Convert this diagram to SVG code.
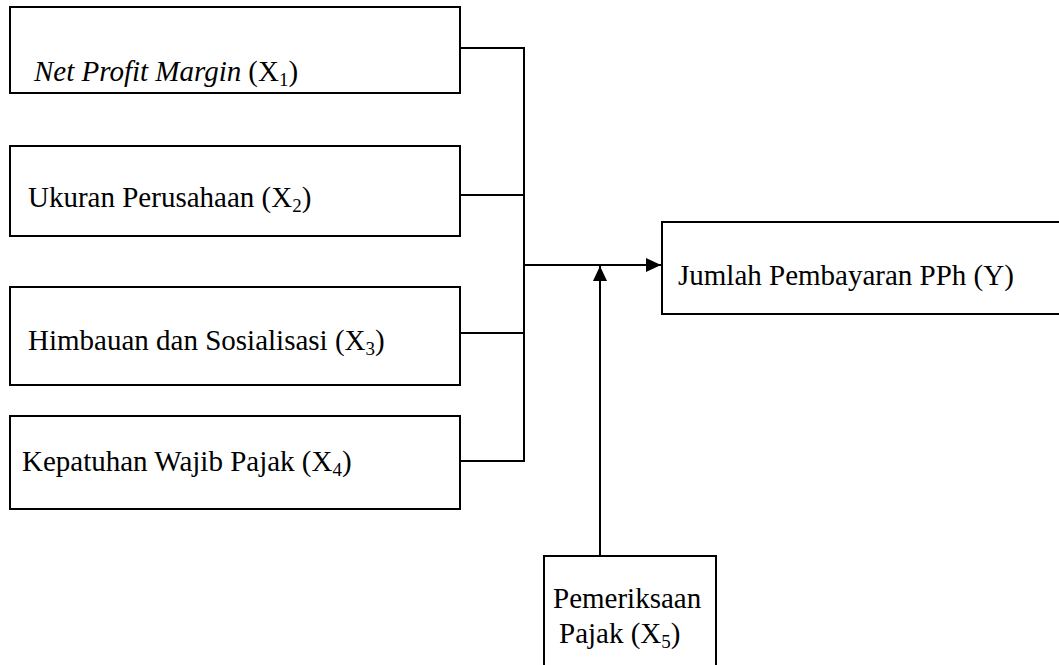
<svg xmlns="http://www.w3.org/2000/svg" width="1059" height="665" viewBox="0 0 1059 665">
<style>
.box{fill:#fff;stroke:#000;stroke-width:2}
.t{font-family:"Liberation Serif","Times New Roman",serif;font-size:29px;fill:#000}
.s{font-size:19px}
.c{fill:none;stroke:#000;stroke-width:2}
</style>
<defs>
<marker id="ah" viewBox="0 0 10 10" refX="10" refY="5" markerWidth="15" markerHeight="14" markerUnits="userSpaceOnUse" orient="auto" preserveAspectRatio="none">
<path d="M0,0 L10,5 L0,10 Z" fill="#000"/>
</marker>
</defs>
<rect width="1059" height="665" fill="#fff"/>
<g id="x1">
<rect class="box" x="10" y="7" width="450" height="86"/>
<text class="t" x="34" y="81"><tspan font-style="italic">Net Profit Margin</tspan><tspan dx="7">(X</tspan><tspan class="s" dy="5">1</tspan><tspan dy="-5">)</tspan></text>
</g>
<g id="x2">
<rect class="box" x="10" y="146" width="450" height="90"/>
<text class="t" x="28" y="207">Ukuran Perusahaan (X<tspan class="s" dy="5">2</tspan><tspan dy="-5">)</tspan></text>
</g>
<g id="x3">
<rect class="box" x="10" y="287" width="450" height="98"/>
<text class="t" x="28" y="350">Himbauan dan Sosialisasi (X<tspan class="s" dy="5">3</tspan><tspan dy="-5">)</tspan></text>
</g>
<g id="x4">
<rect class="box" x="10" y="416" width="450" height="93"/>
<text class="t" x="22" y="471">Kepatuhan Wajib Pajak (X<tspan class="s" dy="5">4</tspan><tspan dy="-5">)</tspan></text>
</g>
<g id="y">
<rect class="box" x="662" y="222" width="420" height="92"/>
<text class="t" x="678" y="285">Jumlah Pembayaran PPh (Y)</text>
</g>
<g id="x5">
<rect class="box" x="544" y="556" width="172" height="130"/>
<text class="t" x="553" y="608">Pemeriksaan</text>
<text class="t" x="559" y="643">Pajak (X<tspan class="s" dy="5">5</tspan><tspan dy="-5">)</tspan></text>
</g>
<g id="connectors">
<path class="c" d="M460,48 H524 V461 H460"/>
<path class="c" d="M460,195 H524"/>
<path class="c" d="M460,333 H524"/>
<path class="c" d="M524,265 H661" marker-end="url(#ah)"/>
<path class="c" d="M600,556 V266" marker-end="url(#ah)"/>
</g>
</svg>
